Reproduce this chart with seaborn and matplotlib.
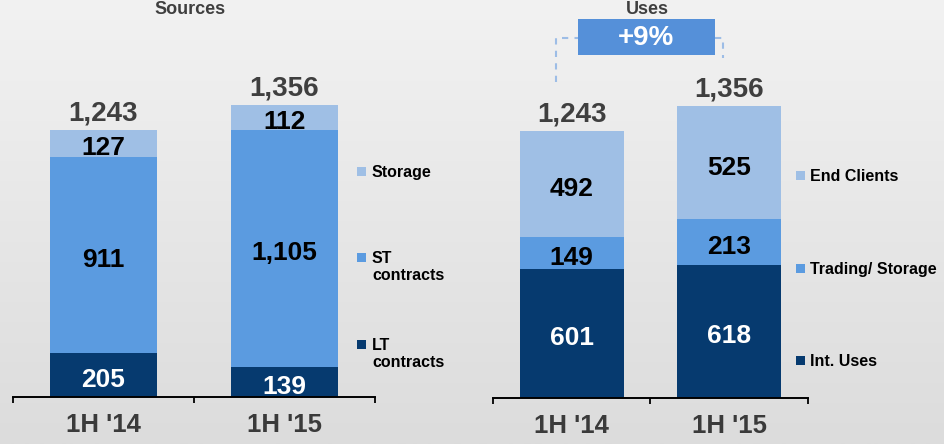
import numpy as np
import pandas as pd
import matplotlib
matplotlib.use("Agg")
import matplotlib.pyplot as plt
from matplotlib.lines import Line2D
from matplotlib.patches import Rectangle
from matplotlib.colors import LinearSegmentedColormap
import seaborn as sns

# periods on the x axis
periods = ["1H '14", "1H '15"]

# Sources (bottom -> top)
src_names = ["LT\ncontracts", "ST\ncontracts", "Storage"]
src_lt = [205, 139]
src_st = [911, 1105]
src_storage = [127, 112]
src_total = [1243, 1356]

# Uses (bottom -> top)
use_names = ["Int. Uses", "Trading/ Storage", "End Clients"]
use_int = [601, 618]
use_trading = [149, 213]
use_clients = [492, 525]
use_total = [1243, 1356]

titles = ["Sources", "Uses"]
growth_label = "+9%"

colors = ["#063a6f", "#5b9be0", "#9fbfe5"]  # dark, mid, light
W, H = 945, 444
PX_PER_UNIT = 0.215

sns.set_theme(style="white")
plt.rcParams["font.family"] = ["Liberation Sans", "DejaVu Sans"]
plt.rcParams["font.weight"] = "bold"

fig = plt.figure(figsize=(9.45, 4.44), dpi=100)


def fx(x):
    return x / W


def fy(y):
    # pixel measured from the top -> figure fraction
    return 1 - y / H


# light grey gradient background
bg = fig.add_axes([0, 0, 1, 1], zorder=-10)
grad = np.linspace(0, 1, 256).reshape(-1, 1)
bg.imshow(grad, aspect="auto", extent=[0, 1, 0, 1],
          cmap=LinearSegmentedColormap.from_list("bg", ["#f2f2f2", "#dcdcdc"]))
bg.axis("off")


def stacked(ax, parts, totals, bar_width, base_px):
    parts = np.array(parts)
    cum = np.cumsum(parts, axis=0)
    # seaborn way of stacking: draw the cumulative totals from the top down
    for i in reversed(range(len(parts))):
        df = pd.DataFrame({"period": periods, "value": cum[i]})
        sns.barplot(data=df, x="period", y="value", color=colors[i], saturation=1,
                    width=bar_width, linewidth=0, ax=ax)
    for i in range(len(parts)):
        for j, v in enumerate(parts[i]):
            ax.annotate(f"{v:,}", (j, cum[i][j] - v / 2), xytext=(0, -3.5),
                        textcoords="offset points", ha="center", va="center",
                        fontsize=19, fontweight="bold",
                        color="white" if i == 0 else "black")
    for j, v in enumerate(totals):
        ax.annotate(f"{v:,}", (j, cum[-1][j]), xytext=(0, 7), textcoords="offset points",
                    ha="center", va="baseline", fontsize=20, fontweight="bold",
                    color="#3f3f3f")

    ax.set_facecolor("none")
    ax.set_xlim(-0.5, 1.5)
    ax.set_ylim(0, base_px / PX_PER_UNIT)
    ax.set_xlabel("")
    ax.set_ylabel("")
    ax.set_yticks([])
    ax.set_xticks([-0.5, 0.5, 1.5], minor=True)
    ax.tick_params(axis="x", which="minor", bottom=True, length=4.5, width=1.3,
                   direction="out", color="black")
    ax.tick_params(axis="x", which="major", bottom=True, length=0, pad=11.5,
                   labelsize=18.5, labelcolor="#3a3a3a")
    for lbl in ax.get_xticklabels():
        lbl.set_fontweight("bold")
    sns.despine(ax=ax, left=True)
    ax.spines["bottom"].set_color("black")
    ax.spines["bottom"].set_linewidth(1.4)


# left chart: Sources
ax1 = fig.add_axes([fx(13), 1 - 397 / H, fx(362), 397 / H])
stacked(ax1, [src_lt, src_st, src_storage], src_total, 107 / 181, 397)

# right chart: Uses
ax2 = fig.add_axes([fx(493), 1 - 398 / H, fx(315), 398 / H])
stacked(ax2, [use_int, use_trading, use_clients], use_total, 104 / 157.5, 398)


# legends
def legend(names, x_marker, x_text, y_centers):
    for name, c, yc in zip(names, colors, y_centers):
        fig.add_artist(Rectangle((fx(x_marker), fy(yc + 4.5)), 9 / W, 9 / H,
                                 transform=fig.transFigure, color=c, lw=0))
        fig.text(fx(x_text), fy(yc - 6), name, ha="left", va="top",
                 fontsize=11.5, fontweight="bold", color="black", linespacing=1.2)


legend(src_names, 357, 372, [344, 257, 171])
legend(use_names, 796, 810, [360, 268, 175])

# section titles (cut off in the source slide, kept small at the top edge)
fig.text(fx(190), fy(1), titles[0], ha="center", va="top", fontsize=13,
         fontweight="bold", color="#3f3f3f")
fig.text(fx(647), fy(1), titles[1], ha="center", va="top", fontsize=13,
         fontweight="bold", color="#3f3f3f")

# growth box with dashed bracket
dash_kw = dict(transform=fig.transFigure, color="#9dbde6", lw=1.5, dashes=(3, 3))
fig.add_artist(Line2D([fx(556), fx(556), fx(578)], [fy(82), fy(38), fy(38)], **dash_kw))
fig.add_artist(Line2D([fx(715), fx(723), fx(723)], [fy(38), fy(38), fy(58)], **dash_kw))
fig.add_artist(Rectangle((fx(578), fy(55)), 137 / W, 36 / H,
                         transform=fig.transFigure, color="#5590d9", lw=0))
fig.text(fx(646.5), fy(38), growth_label, ha="center", va="center", fontsize=20,
         fontweight="bold", color="white")

fig.savefig("out.png", dpi=100)
